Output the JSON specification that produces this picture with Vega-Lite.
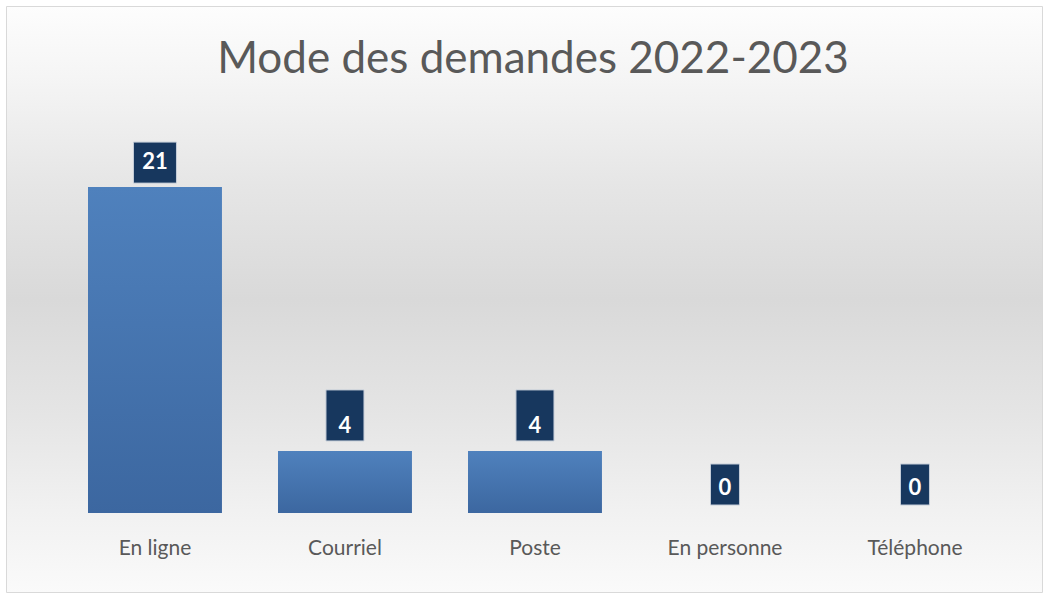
{
  "$schema": "https://vega.github.io/schema/vega-lite/v6.json",
  "autosize": {"type": "none"},
  "padding": {"left": 6, "top": 6, "right": 6, "bottom": 6},
  "width": 1036,
  "height": 586,
  "background": "#ffffff",
  "title": {
    "text": "Mode des demandes 2022-2023",
    "font": "Lato",
    "fontSize": 44,
    "fontWeight": "normal",
    "color": "#595959",
    "anchor": "middle",
    "baseline": "alphabetic",
    "offset": -111,
    "dx": 9
  },
  "config": {
    "view": {
      "stroke": "#d9d9d9",
      "strokeWidth": 1,
      "fill": {
        "gradient": "linear",
        "x1": 0, "y1": 0, "x2": 0, "y2": 1,
        "stops": [
          {"offset": 0, "color": "#fdfdfd"},
          {"offset": 0.12, "color": "#f5f5f5"},
          {"offset": 0.3, "color": "#e6e6e6"},
          {"offset": 0.5, "color": "#d9d9d9"},
          {"offset": 0.7, "color": "#e5e5e5"},
          {"offset": 0.86, "color": "#f1f1f1"},
          {"offset": 1, "color": "#fafafa"}
        ]
      }
    },
    "axis": {"labelFont": "Lato"}
  },
  "data": {
    "values": [
      {"mode": "En ligne", "value": 21},
      {"mode": "Courriel", "value": 4},
      {"mode": "Poste", "value": 4},
      {"mode": "En personne", "value": 0},
      {"mode": "Téléphone", "value": 0}
    ]
  },
  "encoding": {
    "x": {
      "field": "mode",
      "type": "nominal",
      "sort": null,
      "scale": {"paddingInner": 0.295, "paddingOuter": 0.3738, "align": 0.5773},
      "axis": {
        "title": null,
        "domain": false,
        "ticks": false,
        "grid": false,
        "labelAngle": 0,
        "labelFont": "Lato",
        "labelFontSize": 21,
        "labelColor": "#595959",
        "labelPadding": 0,
        "offset": -55
      }
    },
    "y": {
      "field": "value",
      "type": "quantitative",
      "scale": {"domain": [-5.09, 32.67], "nice": false, "zero": false},
      "axis": null
    }
  },
  "layer": [
    {
      "mark": {
        "type": "bar",
        "fill": {
          "gradient": "linear",
          "x1": 0, "y1": 0, "x2": 0, "y2": 1,
          "stops": [
            {"offset": 0, "color": "#4f81bd"},
            {"offset": 1, "color": "#3c67a0"}
          ]
        }
      },
      "encoding": {"y2": {"datum": 0}}
    },
    {
      "mark": {"type": "point", "filled": true, "size": 1681, "color": "#17375e", "opacity": 1, "stroke": "#c5cdd8", "strokeWidth": 1},
      "encoding": {
        "shape": {
          "field": "mode",
          "type": "nominal",
          "legend": null,
          "scale": {
            "domain": ["En ligne", "Courriel", "Poste", "En personne", "Téléphone"],
            "range": [
              "M-1.049,-2.195L1.049,-2.195L1.049,-0.195L-1.049,-0.195Z",
              "M-0.927,-2.976L0.927,-2.976L0.927,-0.488L-0.927,-0.488Z",
              "M-0.927,-2.976L0.927,-2.976L0.927,-0.488L-0.927,-0.488Z",
              "M-0.707,-2.39L0.707,-2.39L0.707,-0.39L-0.707,-0.39Z",
              "M-0.707,-2.39L0.707,-2.39L0.707,-0.39L-0.707,-0.39Z"
            ]
          }
        }
      }
    },
    {
      "mark": {"type": "text", "font": "Lato", "fontSize": 22, "fontWeight": "bold", "color": "#ffffff", "baseline": "alphabetic", "dy": -18},
      "encoding": {"text": {"field": "value", "type": "quantitative"}}
    }
  ]
}
